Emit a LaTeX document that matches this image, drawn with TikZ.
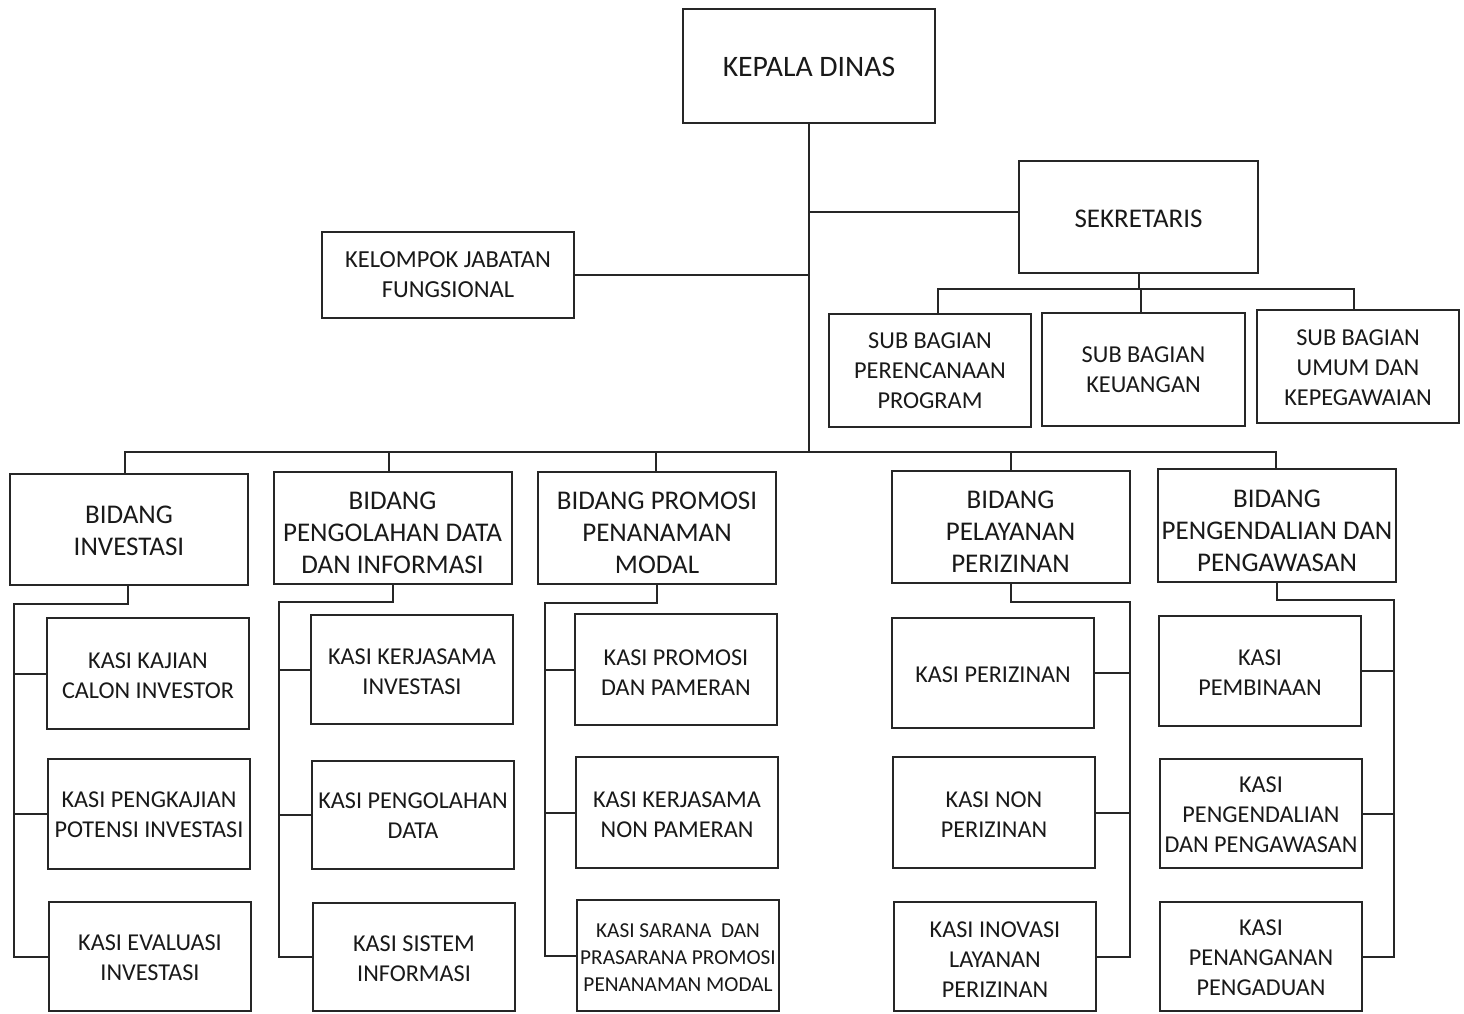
\documentclass[tikz,border=0pt]{standalone}
\usepackage{fontspec}
\setmainfont{Carlito}
\begin{document}
\begin{tikzpicture}[x=1pt,y=-1pt,
  line width=2pt, draw=black!85,
  box/.style={draw, rectangle, inner sep=0pt, outer sep=0pt, fill=white},
  txt/.style={inner sep=0pt, align=center, text=black!90},
  bid/.style={box, minimum width=238pt, minimum height=112pt},
  kasi/.style={box, minimum width=202pt, minimum height=110pt},
  bidf/.style={txt, font=\fontsize{27}{32}\selectfont},
  kasif/.style={txt, font=\fontsize{24.2}{30}\selectfont},
  topf/.style={txt, font=\fontsize{24.3}{30}\selectfont},
  link/.style={draw=black!85, line width=2pt}]
\useasboundingbox (0,0) rectangle (1464,1013);
\fill[white] (0,0) rectangle (1464,1013);

% top section
\node[box, minimum width=252pt, minimum height=114pt] (kepala) at (809,66) {};
\node[txt, font=\fontsize{29.7}{34}\selectfont] at ([yshift=-1pt]kepala) {KEPALA DINAS};
\node[box, minimum width=239pt, minimum height=112pt] (sek) at (1138.5,217) {};
\node[txt, font=\fontsize{27}{32}\selectfont] at ([yshift=-2pt]sek) {SEKRETARIS};
\node[box, minimum width=252pt, minimum height=86pt] (kel) at (448,275) {};
\node[topf, font=\fontsize{24.5}{30}\selectfont] at (kel) {KELOMPOK JABATAN\\FUNGSIONAL};
\node[box, minimum width=202pt, minimum height=113pt] (sub1) at (930,370.5) {};
\node[topf] at (sub1) {SUB BAGIAN\\PERENCANAAN\\PROGRAM};
\node[box, minimum width=203pt, minimum height=113pt] (sub2) at (1143.5,369.5) {};
\node[topf] at (sub2) {SUB BAGIAN\\KEUANGAN};
\node[box, minimum width=202pt, minimum height=113pt] (sub3) at (1358,366.5) {};
\node[topf] at ([yshift=-1pt]sub3) {SUB BAGIAN\\UMUM DAN\\KEPEGAWAIAN};

% bidang
\node[bid, minimum height=111pt] (b1) at (129,529.5) {};
\node[bidf] at ([yshift=-1pt]b1) {BIDANG\\INVESTASI};
\node[bid] (b2) at (392.5,528) {};
\node[bidf] at ([yshift=-5pt]b2) {BIDANG\\PENGOLAHAN DATA\\DAN INFORMASI};
\node[bid] (b3) at (657,528) {};
\node[bidf] at ([yshift=-5pt]b3) {BIDANG PROMOSI\\PENANAMAN\\MODAL};
\node[bid] (b4) at (1010.5,527) {};
\node[bidf] at ([yshift=-5pt]b4) {BIDANG\\PELAYANAN\\PERIZINAN};
\node[bid, minimum height=113pt] (b5) at (1277,525.5) {};
\node[bidf] at ([yshift=-5pt]b5) {BIDANG\\PENGENDALIAN DAN\\PENGAWASAN};

% kasi column 1
\node[kasi, minimum height=111pt] (k11) at (148,673.5) {};
\node[kasif] at ([yshift=-2pt]k11) {KASI KAJIAN\\CALON INVESTOR};
\node[kasi] (k12) at (149,814) {};
\node[kasif] at ([yshift=-1pt]k12) {KASI PENGKAJIAN\\POTENSI INVESTASI};
\node[kasi, minimum height=109pt] (k13) at (150,956.5) {};
\node[kasif] at ([yshift=-1.5pt]k13) {KASI EVALUASI\\INVESTASI};
% column 2
\node[kasi, minimum height=109pt] (k21) at (412,669.5) {};
\node[kasif] at ([yshift=-2.5pt]k21) {KASI KERJASAMA\\INVESTASI};
\node[kasi, minimum height=108pt] (k22) at (413,815) {};
\node[kasif] at ([yshift=-1pt]k22) {KASI PENGOLAHAN\\DATA};
\node[kasi, minimum height=108pt] (k23) at (414,957) {};
\node[kasif] at ([yshift=-1.5pt]k23) {KASI SISTEM\\INFORMASI};
% column 3
\node[kasi, minimum height=111pt] (k31) at (676,669.5) {};
\node[kasif] at ([yshift=-3pt]k31) {KASI PROMOSI\\DAN PAMERAN};
\node[kasi, minimum height=111pt] (k32) at (677,812.5) {};
\node[kasif] at ([yshift=-2pt]k32) {KASI KERJASAMA\\NON PAMERAN};
\node[kasi, minimum height=111pt] (k33) at (678,955.5) {};
\node[txt, font=\fontsize{21.3}{27}\selectfont] at ([yshift=-2pt]k33) {KASI SARANA\ \ DAN\\PRASARANA PROMOSI\\PENANAMAN MODAL};
% column 4
\node[kasi] (k41) at (993,673) {};
\node[kasif] at ([yshift=-2pt]k41) {KASI PERIZINAN};
\node[kasi, minimum height=111pt] (k42) at (994,812.5) {};
\node[kasif] at ([yshift=-2pt]k42) {KASI NON\\PERIZINAN};
\node[kasi, minimum height=109pt] (k43) at (995,956.5) {};
\node[kasif] at ([yshift=-3pt]k43) {KASI INOVASI\\LAYANAN\\PERIZINAN};
% column 5
\node[kasi] (k51) at (1260,671) {};
\node[kasif] at ([yshift=-2pt]k51) {KASI\\PEMBINAAN};
\node[kasi, minimum height=109pt] (k52) at (1261,813.5) {};
\node[kasif] at ([yshift=-1pt]k52) {KASI\\PENGENDALIAN\\DAN PENGAWASAN};
\node[kasi, minimum height=109pt] (k53) at (1261,956.5) {};
\node[kasif] at ([yshift=-1.5pt]k53) {KASI\\PENANGANAN\\PENGADUAN};

% connectors: top
\coordinate (bus) at (808,452);
\coordinate (sekin) at ([yshift=5pt]sek.west);
\coordinate (sbus) at (1140,289);
\draw[link] (kepala.south) -- (kepala.south |- bus);
\draw[link] (sekin) -- (sekin -| kepala.south);
\draw[link] (kel.east) -- (kel.east -| kepala.south);
\draw[link] (sek.south) -- (sek.south |- sbus);
\draw[link] ([xshift=8pt]sub1.north) |- (sbus);
\draw[link] ([xshift=-3pt]sub2.north) -- ([xshift=-3pt]sub2.north |- sbus);
\draw[link] ([xshift=-4pt]sub3.north) |- (sbus);

% bidang bus
\draw[link] ([xshift=-4pt]b1.north) |- (bus);
\draw[link] ([xshift=-3.5pt]b2.north) |- (bus);
\draw[link] ([xshift=-1pt]b3.north) |- (bus);
\draw[link] (b4.north) |- (bus);
\draw[link] ([xshift=-1pt]b5.north) |- (bus);

% kasi brackets
\coordinate (c1) at (14,604);
\coordinate (c2) at (279,602);
\coordinate (c3) at (545,603);
\coordinate (c4) at (1130,602);
\coordinate (c5) at (1394,600);

\draw[link] ([xshift=-1pt]b1.south) |- (c1) -- (c1 |- k13.west) -- (k13.west);
\draw[link] (k11.west) -- (k11.west -| c1);
\draw[link] (k12.west) -- (k12.west -| c1);

\draw[link] (b2.south) |- (c2) -- (c2 |- k23.west) -- (k23.west);
\draw[link] (k21.west) -- (k21.west -| c2);
\draw[link] (k22.west) -- (k22.west -| c2);

\draw[link] (b3.south) |- (c3) -- (c3 |- k33.west) -- (k33.west);
\draw[link] (k31.west) -- (k31.west -| c3);
\draw[link] (k32.west) -- (k32.west -| c3);

\draw[link] (b4.south) |- (c4) -- (c4 |- k43.east) -- (k43.east);
\draw[link] (k41.east) -- (k41.east -| c4);
\draw[link] (k42.east) -- (k42.east -| c4);

\draw[link] (b5.south) |- (c5) -- (c5 |- k53.east) -- (k53.east);
\draw[link] (k51.east) -- (k51.east -| c5);
\draw[link] (k52.east) -- (k52.east -| c5);
\end{tikzpicture}
\end{document}
